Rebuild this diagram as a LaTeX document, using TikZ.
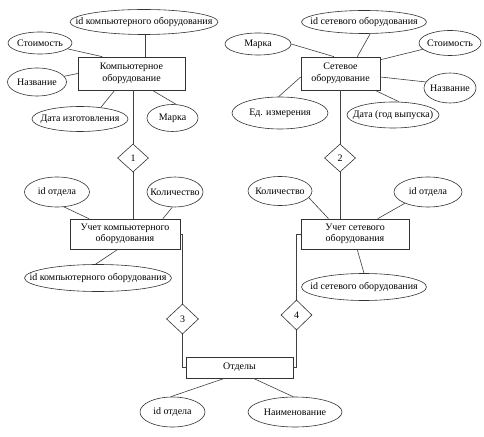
\documentclass[tikz,border=0pt]{standalone}
\usepackage{fontspec}
\setmainfont{Liberation Serif}
\usetikzlibrary{shapes.geometric}
\newcommand{\zw}[1]{\makebox[0pt]{#1}}
\begin{document}
\begin{tikzpicture}[x=1bp,y=-1bp,
  every node/.style={font=\fontsize{10}{11.5}\selectfont, inner sep=0pt, draw=black!80, line width=0.6pt},
  attr/.style={ellipse},
  ent/.style={rectangle, align=center},
  rel/.style={diamond},
  link/.style={draw=black!75, line width=0.6pt}]
\fill[white] (0,0) rectangle (484,437);
\useasboundingbox (0,0) rectangle (484,437);

% ---- Компьютерное оборудование
\node[ent, minimum width=107bp, minimum height=33bp] (cb) at (131.5,73.5) {Компьютерное\\оборудование};
\node[attr, minimum width=148bp, minimum height=25bp] (idc) at (144,22) {\zw{id компьютерного оборудования}};
\node[attr, minimum width=64bp, minimum height=22bp] (st1) at (40,43) {\zw{Стоимость}};
\node[attr, minimum width=59bp, minimum height=28bp] (nz1) at (37,82) {\zw{Название}};
\node[attr, minimum width=96bp, minimum height=25bp] (dz) at (80,119) {\zw{Дата изготовления}};
\node[attr, minimum width=51bp, minimum height=27bp] (mk1) at (172.5,118) {\zw{Марка}};
\draw[link] (idc.-86) -- (idc.-86 |- cb.north);
\draw[link] (st1.-12) -- (cb.150);
\draw[link] (nz1) -- (cb.west);
\draw[link] (dz.29) -- (cb.225);
\draw[link] (mk1.75) -- (cb.-39);

% ---- Сетевое оборудование
\node[ent, minimum width=79bp, minimum height=33bp] (sb) at (340.5,73.5) {Сетевое\\оборудование};
\node[attr, minimum width=125bp, minimum height=23bp] (ids) at (364,22) {\zw{id сетевого оборудования}};
\node[attr, minimum width=66bp, minimum height=22bp] (mk2) at (258,44) {\zw{Марка}};
\node[attr, minimum width=62bp, minimum height=25bp] (st2) at (450,43) {\zw{Стоимость}};
\node[attr, minimum width=52bp, minimum height=30bp] (nz2) at (450,88) {\zw{Название}};
\node[attr, minimum width=96bp, minimum height=32bp] (ed) at (280,113) {\zw{Ед. измерения}};
\node[attr, minimum width=92bp, minimum height=26bp] (dg) at (393,115) {\zw{Дата (год выпуска)}};
\draw[link] (ids.-62) -- (sb.45);
\draw[link] (mk2.east) -- (sb.111);
\draw[link] (st2.193) -- (sb.19);
\draw[link] (nz2.166) -- (sb.-5);
\draw[link] (ed.95) -- (sb.185);
\draw[link] (dg.65) -- (sb.-26);

% ---- relationships 1, 2
\node[rel, minimum width=31bp, minimum height=28bp] (d1) at (133,158) {1};
\node[rel, minimum width=31bp, minimum height=28bp] (d2) at (340,158) {2};
\draw[link] (d1.north |- cb.south) -- (d1.north);
\draw[link] (d2.north |- sb.south) -- (d2.north);

% ---- Учет компьютерного оборудования
\node[ent, minimum width=110bp, minimum height=30bp] (ukc) at (125,234) {Учет компьютерного\\оборудования};
\node[attr, minimum width=65bp, minimum height=30bp] (io1) at (57,192) {\zw{id отдела}};
\node[attr, minimum width=56bp, minimum height=30bp] (kol1) at (175,192) {\zw{Количество}};
\node[attr, minimum width=147bp, minimum height=27bp] (idc2) at (98,278) {\zw{id компьютерного оборудования}};
\draw[link] (d1.south) -- (d1.south |- ukc.north);
\draw[link] (io1.-65) -- (ukc.157);
\draw[link] (kol1.-100) -- (ukc.22);
\draw[link] (idc2.100) -- (ukc.245);

% ---- Учет сетевого оборудования
\node[ent, minimum width=108bp, minimum height=30bp] (ukn) at (355,234) {Учет сетевого\\оборудования};
\node[attr, minimum width=64bp, minimum height=29bp] (kol2) at (280,191) {\zw{Количество}};
\node[attr, minimum width=68bp, minimum height=30bp] (io2) at (428,192) {\zw{id отдела}};
\node[attr, minimum width=125bp, minimum height=27bp] (ids2) at (364,287) {\zw{id сетевого оборудования}};
\draw[link] (d2.south) -- (d2.south |- ukn.north);
\draw[link] (kol2.-13) -- (ukn.150);
\draw[link] (io2.206) -- (ukn.34);
\draw[link] (ukn.-82) -- (ids2.north);

% ---- relationships 3, 4 and Отделы
\node[rel, minimum width=32bp, minimum height=30bp] (d3) at (182.5,319) {3};
\node[rel, minimum width=31bp, minimum height=30bp] (d4) at (296.5,315) {4};
\node[ent, minimum width=107bp, minimum height=21bp] (otd) at (239.5,367.5) {Отделы};
\node[attr, minimum width=65bp, minimum height=30bp] (io3) at (172.5,412) {\zw{id отдела}};
\node[attr, minimum width=94bp, minimum height=30bp] (nm) at (295,412) {\zw{Наименование}};
\draw[link] (ukc.east) -| (d3.north);
\draw[link] (d3.south) |- (otd.west);
\draw[link] (ukn.west) -| (d4.north);
\draw[link] (d4.south) |- (otd.east);
\draw[link] (otd.216) -- (io3.97);
\draw[link] (otd.-38) -- (nm.97);
\end{tikzpicture}
\end{document}
